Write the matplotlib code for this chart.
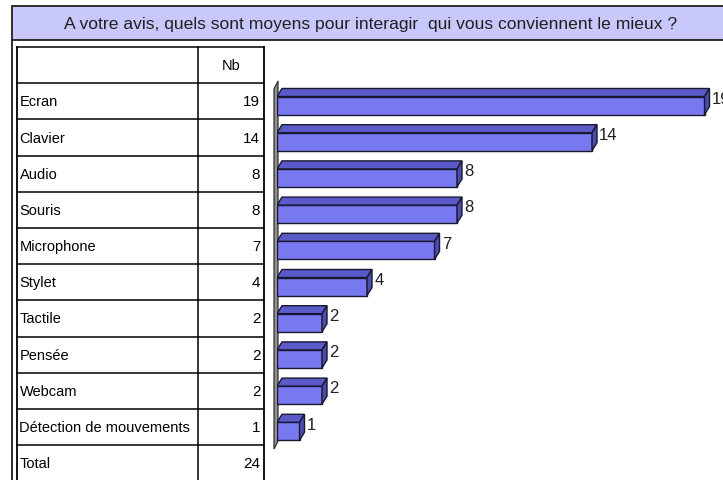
import matplotlib
matplotlib.use("Agg")
import matplotlib.pyplot as plt
from matplotlib.patches import Rectangle, Polygon

W, H = 723, 481

title = "A votre avis, quels sont moyens pour interagir  qui vous conviennent le mieux ?"
categories = ["Ecran", "Clavier", "Audio", "Souris", "Microphone", "Stylet",
              "Tactile", "Pensée", "Webcam", "Détection de mouvements"]
counts = [19, 14, 8, 8, 7, 4, 2, 2, 2, 1]
header = "Nb"
total_label = "Total"
total = 24

plt.rcParams["font.family"] = ["Liberation Sans", "DejaVu Sans"]

front_c = "#7878f0"
top_c = "#5a5ac8"
side_c = "#4c4cb0"
edge_c = "#181830"


def fx(x):
    return x / W


def fy(y):
    return 1 - y / H


fig = plt.figure(figsize=(W / 100, H / 100), dpi=100)

# frame + title bar
bg = fig.add_axes([0, 0, 1, 1])
bg.set_xlim(0, W)
bg.set_ylim(H, 0)
bg.axis("off")
bg.add_patch(Rectangle((12, 7), W, 34, facecolor="#c8c8fc", edgecolor="#202020", lw=1.3))
bg.plot([12, 12], [41, H], color="#202020", lw=1.3)
bg.text(371, 24, title, ha="center", va="center", fontsize=12.6, color="#202020")

# table
ax_t = fig.add_axes([fx(17), fy(482.4), fx(264 - 17), (482.4 - 48) / H])
ax_t.set_xlim(0, 1)
ax_t.set_ylim(12, 0)
ax_t.axis("off")
col = (198 - 17) / (264 - 17)
for r in range(13):
    ax_t.plot([0, 1], [r, r], color="black", lw=1.1, clip_on=False)
for c in (0, col, 1):
    ax_t.plot([c, c], [0, 12], color="black", lw=1.3 if c != col else 1.1, clip_on=False)
ax_t.text((col + 1) / 2, 0.5, header, ha="center", va="center", fontsize=10.5)
rows = list(zip(categories, counts)) + [(total_label, total)]
for i, (lab, n) in enumerate(rows):
    ax_t.text(0.01, i + 1.5, lab, ha="left", va="center", fontsize=10.5)
    ax_t.text(0.985, i + 1.5, str(n), ha="right", va="center", fontsize=11)

# 3d bars
ppx, ppy = 22.5, 36.2
ax_b = fig.add_axes([fx(277), fy(470), fx(446), 400 / H])
ax_b.set_xlim(0, 446 / ppx)
ax_b.set_ylim((470 - 106.5) / ppy, (70 - 106.5) / ppy)
ax_b.axis("off")
dx, dy = 5 / ppx, 8 / ppy
h = 18 / ppy

# wall
w0 = -3 / ppx
wb, wt = (450 - 106.5) / ppy, (90 - 106.5) / ppy
ax_b.add_patch(Polygon([(w0, wb), (w0, wt), (w0 + dx * 0.8, wt - dy), (w0 + dx * 0.8, wb - dy)],
                       closed=True, facecolor="#909090", edgecolor="#303030", lw=0.9, clip_on=False))

for i, v in enumerate(counts):
    t = i - h / 2
    b = i + h / 2
    ax_b.add_patch(Rectangle((0, t), v, h, facecolor=front_c, edgecolor=edge_c, lw=1.0))
    ax_b.add_patch(Polygon([(0, t), (v, t), (v + dx, t - dy), (dx, t - dy)], closed=True,
                           facecolor=top_c, edgecolor=edge_c, lw=1.0))
    ax_b.add_patch(Polygon([(v, t), (v + dx, t - dy), (v + dx, b - dy), (v, b)], closed=True,
                           facecolor=side_c, edgecolor=edge_c, lw=1.0))
    ax_b.text(v + dx + 0.1, t + 0.05, str(v), ha="left", va="center", fontsize=12,
              color="#202020", clip_on=False)

fig.savefig("out.png", dpi=100)
